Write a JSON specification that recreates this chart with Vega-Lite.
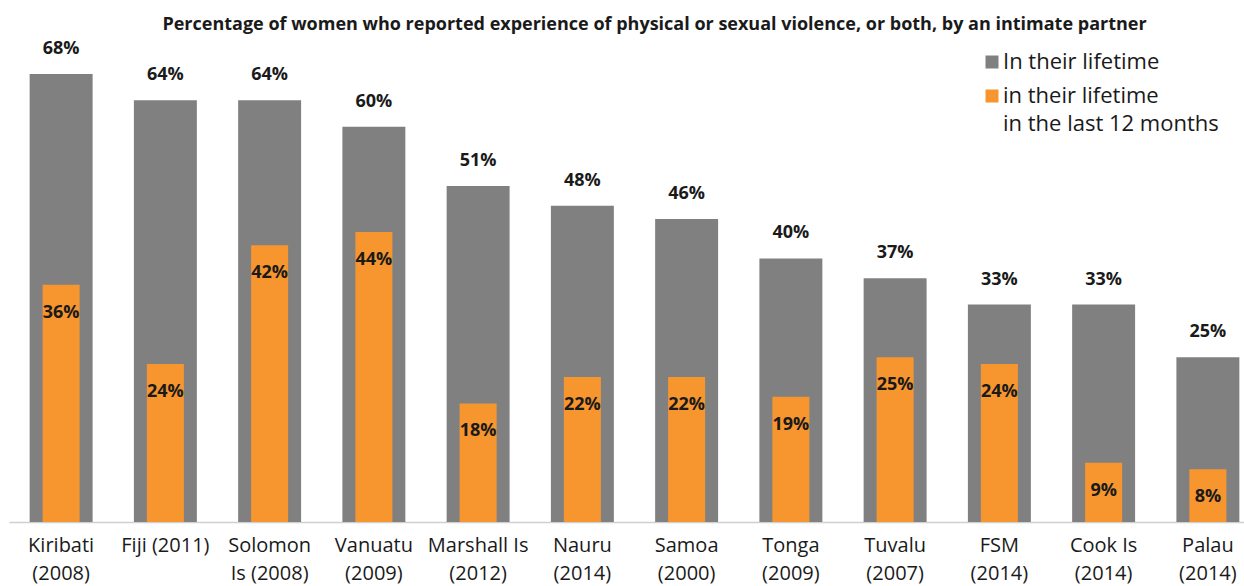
{
  "$schema": "https://vega.github.io/schema/vega-lite/v6.json",
  "autosize": {"type": "none"},
  "padding": {"left": 9, "top": 74, "right": 0, "bottom": 64},
  "width": 1235,
  "height": 448,
  "background": "white",
  "title": {
    "text": "Percentage of women who reported experience of physical or sexual violence, or both, by an intimate partner",
    "font": "Open Sans",
    "fontSize": 18,
    "fontWeight": "bold",
    "color": "#1a1a1a",
    "anchor": "middle",
    "dx": 28,
    "offset": 6
  },
  "data": {
    "values": [
      {"country": "Kiribati|(2008)", "series": "In their lifetime", "value": 0.68},
      {"country": "Fiji (2011)", "series": "In their lifetime", "value": 0.64},
      {"country": "Solomon|Is (2008)", "series": "In their lifetime", "value": 0.64},
      {"country": "Vanuatu|(2009)", "series": "In their lifetime", "value": 0.60},
      {"country": "Marshall Is|(2012)", "series": "In their lifetime", "value": 0.51},
      {"country": "Nauru|(2014)", "series": "In their lifetime", "value": 0.48},
      {"country": "Samoa|(2000)", "series": "In their lifetime", "value": 0.46},
      {"country": "Tonga|(2009)", "series": "In their lifetime", "value": 0.40},
      {"country": "Tuvalu|(2007)", "series": "In their lifetime", "value": 0.37},
      {"country": "FSM|(2014)", "series": "In their lifetime", "value": 0.33},
      {"country": "Cook Is|(2014)", "series": "In their lifetime", "value": 0.33},
      {"country": "Palau|(2014)", "series": "In their lifetime", "value": 0.25},
      {"country": "Kiribati|(2008)", "series": "in the last 12 months", "value": 0.36},
      {"country": "Fiji (2011)", "series": "in the last 12 months", "value": 0.24},
      {"country": "Solomon|Is (2008)", "series": "in the last 12 months", "value": 0.42},
      {"country": "Vanuatu|(2009)", "series": "in the last 12 months", "value": 0.44},
      {"country": "Marshall Is|(2012)", "series": "in the last 12 months", "value": 0.18},
      {"country": "Nauru|(2014)", "series": "in the last 12 months", "value": 0.22},
      {"country": "Samoa|(2000)", "series": "in the last 12 months", "value": 0.22},
      {"country": "Tonga|(2009)", "series": "in the last 12 months", "value": 0.19},
      {"country": "Tuvalu|(2007)", "series": "in the last 12 months", "value": 0.25},
      {"country": "FSM|(2014)", "series": "in the last 12 months", "value": 0.24},
      {"country": "Cook Is|(2014)", "series": "in the last 12 months", "value": 0.09},
      {"country": "Palau|(2014)", "series": "in the last 12 months", "value": 0.08}
    ]
  },
  "encoding": {
    "x": {
      "field": "country",
      "type": "nominal",
      "sort": null,
      "scale": {"range": [0, 1251], "paddingInner": 0, "paddingOuter": 0},
      "axis": {
        "title": null,
        "labelAngle": 0,
        "ticks": false,
        "domainColor": "#d0d0d0",
        "domainWidth": 1.5,
        "labelFont": "Open Sans",
        "labelFontSize": 20,
        "labelColor": "#1a1a1a",
        "labelLineHeight": 28,
        "labelPadding": 13,
        "labelExpr": "split(datum.label, '|')"
      }
    },
    "y": {
      "field": "value",
      "type": "quantitative",
      "scale": {"domain": [0, 0.68], "nice": false},
      "axis": null
    }
  },
  "layer": [
    {
      "transform": [{"filter": "datum.series == 'In their lifetime'"}],
      "mark": {"type": "bar", "width": {"band": 0.604}},
      "encoding": {
        "color": {
          "field": "series",
          "type": "nominal",
          "scale": {"domain": ["In their lifetime", "in the last 12 months"], "range": ["#808080", "#F7952F"]},
          "legend": {
            "title": null,
            "orient": "none",
            "legendX": 972,
            "legendY": -23,
            "symbolType": "square",
            "symbolSize": 169,
            "symbolStrokeWidth": 0,
            "symbolOpacity": 1,
            "labelFont": "Open Sans",
            "labelFontSize": 22,
            "labelColor": "#1a1a1a",
            "labelOffset": 0,
            "rowPadding": 12,
            "labelLimit": 400,
            "labelExpr": "datum.label == 'In their lifetime' ? datum.label : ['in their lifetime', 'in the last 12 months']"
          }
        }
      }
    },
    {
      "transform": [{"filter": "datum.series == 'in the last 12 months'"}],
      "mark": {"type": "bar", "width": {"band": 0.355}},
      "encoding": {
        "color": {"field": "series", "type": "nominal"}
      }
    },
    {
      "transform": [{"filter": "datum.series == 'In their lifetime'"}],
      "mark": {"type": "text", "font": "Open Sans", "fontSize": 18, "fontWeight": "bold", "color": "#1a1a1a", "baseline": "middle", "dy": -25},
      "encoding": {"text": {"field": "value", "type": "quantitative", "format": ".0%"}}
    },
    {
      "transform": [{"filter": "datum.series == 'in the last 12 months'"}],
      "mark": {"type": "text", "font": "Open Sans", "fontSize": 18, "fontWeight": "bold", "color": "#1a1a1a", "baseline": "middle", "dy": 28},
      "encoding": {"text": {"field": "value", "type": "quantitative", "format": ".0%"}}
    }
  ],
  "config": {
    "view": {"stroke": null},
    "style": {"guide-label": {"lineHeight": 28}}
  }
}
